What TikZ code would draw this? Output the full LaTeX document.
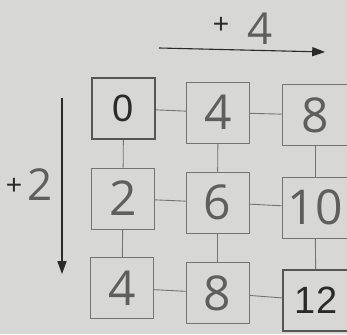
\documentclass[tikz,border=0pt]{standalone}
\usepackage{fontspec}
\setmainfont{Liberation Sans}
\newfontfamily\handfont{Open Sans}
\usepackage{xcolor}
\usepackage{tikz}
\usetikzlibrary{positioning,arrows.meta,calc}
\definecolor{paper}{HTML}{D7D7D5}
\definecolor{ink}{HTML}{2A2A2A}
\definecolor{rule}{HTML}{737373}
\definecolor{pencil}{HTML}{5E5E5E}
\tikzset{
  cell/.style={draw=rule, line width=0.9pt, inner sep=0pt,
               minimum width=63pt, minimum height=61pt},
  given/.style={cell, draw=ink!80, line width=1.5pt, font=\fontsize{38}{38}\selectfont, text=ink},
  filled/.style={cell, font=\handfont\fontsize{48}{48}\selectfont, text=pencil},
  link/.style={draw=rule, line width=0.9pt},
  ar/.style={-{Triangle[length=4.5mm, width=3.2mm]}, line width=1.1pt, color=ink},
  hand/.style={font=\handfont\fontsize{44}{44}\selectfont, text=pencil, inner sep=0pt},
  plus/.style={font=\fontsize{28}{28}\selectfont, text=ink, inner sep=0pt},
}
\begin{document}
\begin{tikzpicture}[x=1pt, y=1pt]
\fill[paper] (0,0) rectangle (347,334);
\useasboundingbox (0,0) rectangle (347,334);

% grid of boxes
\node[given]  (a00) at (123.5,225.5) {0};
\node[filled] (a01) at (218,221.5) {4};
\node[filled, minimum width=66pt] (a02) at (315,219) {8};
\node[filled] (a10) at (123,135.5) {2};
\node[filled] (a11) at (217.5,131.5) {6};
\node[filled, minimum width=66pt] (a12) at (315,126.5) {10};
\node[filled] (a20) at (122,46) {4};
\node[filled] (a21) at (217.5,41) {8};
\node[given, minimum width=66pt] (a22) at (316,33.5) {12};

% links between boxes
\draw[link] (a00) -- (a01); \draw[link] (a01) -- (a02);
\draw[link] (a10) -- (a11); \draw[link] (a11) -- (a12);
\draw[link] (a20) -- (a21); \draw[link] (a21) -- (a22);
\draw[link] (a00) -- (a10); \draw[link] (a10) -- (a20);
\draw[link] (a01) -- (a11); \draw[link] (a11) -- (a21);
\draw[link] (a02) -- (a12); \draw[link] (a12) -- (a22);

% step arrows
\coordinate (r0) at (159,286);
\coordinate (r1) at (325,282);
\draw[ar] (r0) -- (r1);
\node[plus] (rp) at (221,309) {+};
\node[hand] (rn) at (260,305) {4};

\coordinate (d0) at (62,236);
\coordinate (d1) at (62,60);
\draw[ar] (d0) -- (d1);
\node[plus] (dp) at (14,148) {+};
\node[hand] (dn) at (40,149) {2};
\end{tikzpicture}
\end{document}
